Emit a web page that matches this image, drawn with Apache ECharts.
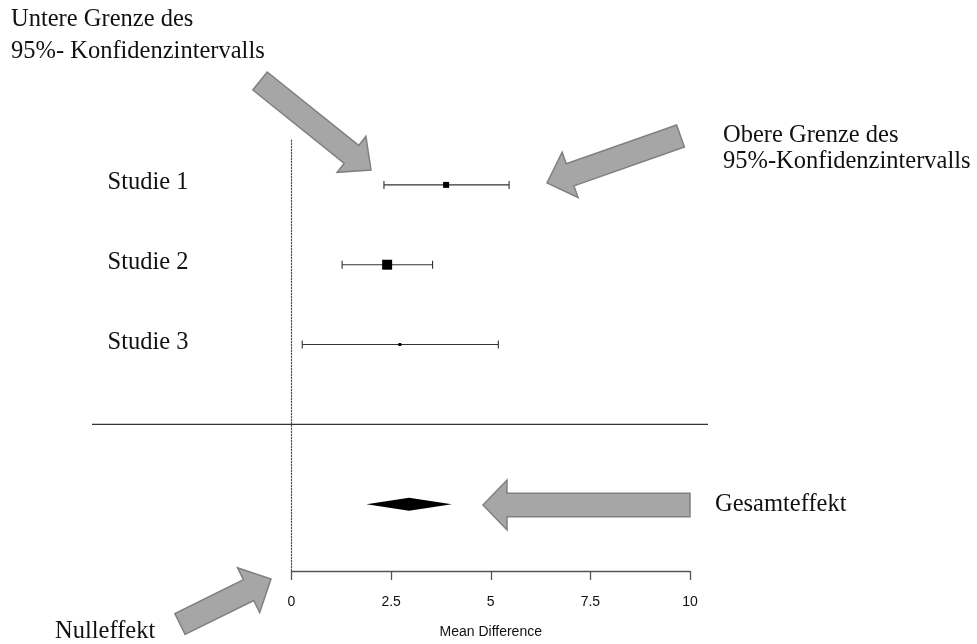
<!DOCTYPE html>
<html>
<head>
<meta charset="utf-8">
<script src="https://cdn.jsdelivr.net/npm/echarts@6/dist/echarts.min.js"></script>
<style>
  html, body { margin: 0; padding: 0; background: #fff; }
  #main { width: 977px; height: 644px; }
</style>
</head>
<body>
<div id="main"></div>
<script>
// forest plot data
const studies = ['Studie 1', 'Studie 2', 'Studie 3'];
const meanDiff = [3.88, 2.40, 2.72];
const ciLower = [2.32, 1.27, 0.27];
const ciUpper = [5.46, 3.54, 5.19];
const weights = [25, 69, 6];   // % weight, box area follows it
const pooledLower = 1.88;
const pooledEst = 2.95;
const pooledUpper = 4.02;
const xTicks = [0, 2.5, 5, 7.5, 10];

const serif = '"Liberation Serif", "DejaVu Serif", serif';
const sans = '"Liberation Sans", Arial, sans-serif';

// rows: studies 1..3, separator 4, pooled 5
const sepRow = studies.length + 1;
const pooledRow = studies.length + 2;

let dom = document.getElementById('main');
let chart = echarts.init(dom);

// gray annotation arrow polygon from tail to tip
function arrow(tail, tip, sw, hw, hl) {
    let dx = tip[0] - tail[0], dy = tip[1] - tail[1];
    let len = Math.sqrt(dx * dx + dy * dy);
    let ux = dx / len, uy = dy / len;
    let nx = -uy, ny = ux;
    let bx = tip[0] - ux * hl, by = tip[1] - uy * hl;
    return {
        type: 'polygon',
        shape: {
            points: [
                [tail[0] + nx * sw, tail[1] + ny * sw],
                [bx + nx * sw, by + ny * sw],
                [bx + nx * hw, by + ny * hw],
                tip,
                [bx - nx * hw, by - ny * hw],
                [bx - nx * sw, by - ny * sw],
                [tail[0] - nx * sw, tail[1] - ny * sw]
            ]
        },
        style: { fill: '#a6a6a6', stroke: '#808080', lineWidth: 1.5 },
        z: 10
    };
}

function txt(x, y, s, align) {
    return {
        type: 'text',
        x: x, y: y,
        style: {
            text: s, font: '24.5px ' + serif, fill: '#111',
            textAlign: align || 'left', textVerticalAlign: 'middle'
        },
        z: 10
    };
}

let option = {
    animation: false,
    grid: { left: 291.5, right: 287, top: 140, bottom: 72 },
    xAxis: {
        type: 'value',
        min: xTicks[0],
        max: xTicks[xTicks.length - 1],
        interval: 2.5,
        name: 'Mean Difference',
        nameLocation: 'middle',
        nameGap: 54,
        nameTextStyle: { fontFamily: sans, fontSize: 14, color: '#111' },
        axisLine: { lineStyle: { color: '#555', width: 1.3 } },
        axisTick: { length: 9, lineStyle: { color: '#555', width: 1.3 } },
        axisLabel: { fontFamily: sans, fontSize: 14, color: '#111', margin: 24 },
        splitLine: { show: false }
    },
    yAxis: {
        type: 'value',
        inverse: true,
        min: 0.4375,
        max: 5.8375,
        axisLine: { show: true, lineStyle: { color: '#555', width: 1.2, type: [1.5, 1.5] } },
        axisTick: { show: false },
        axisLabel: { show: false },
        splitLine: { show: false }
    },
    series: [
        {
            // confidence intervals with end caps
            type: 'custom',
            renderItem: function (params, api) {
                let y = api.value(0);
                let lo = api.coord([api.value(1), y]);
                let hi = api.coord([api.value(2), y]);
                let st = { stroke: '#333', lineWidth: 1.1 };
                return {
                    type: 'group',
                    children: [
                        { type: 'line', shape: { x1: lo[0], y1: lo[1], x2: hi[0], y2: hi[1] }, style: st },
                        { type: 'line', shape: { x1: lo[0], y1: lo[1] - 4, x2: lo[0], y2: lo[1] + 4 }, style: st },
                        { type: 'line', shape: { x1: hi[0], y1: hi[1] - 4, x2: hi[0], y2: hi[1] + 4 }, style: st }
                    ]
                };
            },
            encode: { x: [1, 2], y: 0 },
            data: studies.map((s, i) => [i + 1, ciLower[i], ciUpper[i]]),
            z: 3
        },
        {
            // study effect boxes, size by weight
            type: 'scatter',
            symbol: 'rect',
            symbolSize: function (val, params) {
                return Math.sqrt(weights[params.dataIndex]) * 1.2;
            },
            itemStyle: { color: '#000', opacity: 1 },
            data: studies.map((s, i) => [meanDiff[i], i + 1]),
            z: 4
        },
        {
            // pooled effect diamond
            type: 'custom',
            renderItem: function (params, api) {
                let y = api.value(0);
                let lo = api.coord([api.value(1), y]);
                let mid = api.coord([api.value(2), y]);
                let hi = api.coord([api.value(3), y]);
                return {
                    type: 'polygon',
                    shape: { points: [lo, [mid[0], mid[1] - 6.5], hi, [mid[0], mid[1] + 6.5]] },
                    style: { fill: '#000' }
                };
            },
            encode: { x: [1, 2, 3], y: 0 },
            data: [[pooledRow, pooledLower, pooledEst, pooledUpper]],
            z: 4
        }
    ]
};

chart.setOption(option);

// texts, separator and arrows
let sepY = chart.convertToPixel({ yAxisIndex: 0 }, sepRow);
let gfx = [
    { type: 'line', shape: { x1: 92, y1: sepY, x2: 708, y2: sepY }, style: { stroke: '#333', lineWidth: 1.3 }, z: 2 },
    txt(11, 20, 'Untere Grenze des'),
    txt(11, 52, '95%- Konfidenzintervalls'),
    txt(723, 136, 'Obere Grenze des'),
    txt(723, 162, '95%-Konfidenzintervalls'),
    txt(715, 505, 'Gesamteffekt'),
    txt(55, 632, 'Nulleffekt'),
    arrow([260, 81], [371, 170], 11.5, 23, 25),
    arrow([680.5, 136], [547, 183], 11.7, 24, 24.5),
    arrow([690, 505], [483, 505], 11.7, 25, 24),
    arrow([180, 624], [271, 579], 11.6, 25, 25)
];
studies.forEach(function (s, i) {
    let y = chart.convertToPixel({ yAxisIndex: 0 }, i + 1);
    gfx.push(txt(148, y - 2, s, 'center'));
});
chart.setOption({ graphic: gfx });

window.addEventListener('resize', function () {
    chart.resize();
});
</script>
</body>
</html>
